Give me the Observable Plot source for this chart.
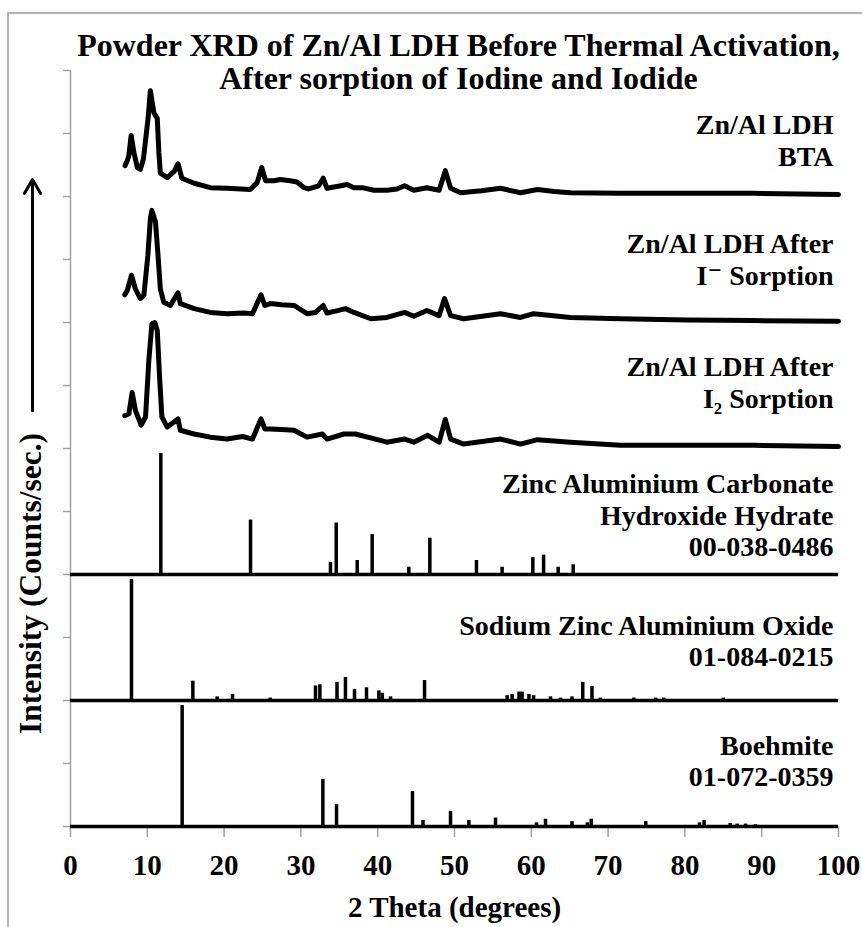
<!DOCTYPE html>
<html><head><meta charset="utf-8">
<script src="https://cdn.jsdelivr.net/npm/d3@7"></script>
<script src="https://cdn.jsdelivr.net/npm/@observablehq/plot@0.6"></script>
<style>
html,body{margin:0;padding:0;background:#fff;}
#wrap{position:relative;width:862px;height:927px;overflow:hidden;background:#fff;}
#frame{position:absolute;left:7px;top:12px;width:900px;height:950px;border-left:2px solid #b4b4b4;border-top:2px solid #b4b4b4;pointer-events:none;}
</style></head><body>
<div id="wrap"><div id="chart"></div><div id="frame"></div></div>
<script>
// ---------- data (2θ in degrees, intensity in arbitrary units; 100 units = one y tick) ----------
const titleText = "Powder XRD of Zn/Al LDH Before Thermal Activation,\nAfter sorption of Iodine and Iodide";
const xLabel = "2 Theta (degrees)";
const yLabel = "Intensity (Counts/sec.)";
const xTicks = [0, 10, 20, 30, 40, 50, 60, 70, 80, 90, 100];
const yTicks = [0, 100, 200, 300, 400, 500, 600, 700, 800, 900, 1000, 1100, 1200];

// measured traces (offset stacked)
const btaTheta = [7.1,7.4,7.6,7.9,8.25,8.7,9.1,9.5,9.8,10.1,10.4,10.85,11.3,11.5,11.7,12.6,13.5,14.0,14.5,16.1,18.2,20.4,23.4,24.3,24.9,25.4,26.5,27.3,28.6,29.5,30.4,31.0,32.3,32.9,33.4,34.3,35.2,36.0,36.9,38.0,39.5,41.2,42.5,43.5,44.7,46.4,48.0,48.8,49.5,50.8,53.5,56.0,58.6,60.8,63.0,65.1,71.6,80.3,89.0,100];
const btaCounts = [49,57,65,97,70,46,43,60,92,124,168,133,124,70,37,30,40,52,29,21,14,13,11,22,46,25,25,27,25,23,14,12,17,29,13,15,17,19,14,14,10,10,12,17,10,14,10,41,13,6,9,13,6,11,8,6,5,5,5,3];

const iodideTheta = [7.07,7.4,7.94,8.46,9.1,9.55,10.07,10.4,10.6,11.07,11.4,11.7,12.15,13.0,14.0,14.3,16.1,18.2,20.4,22.6,23.7,24.8,25.3,26.0,27.5,29.1,30.8,31.9,32.9,33.4,34.5,35.8,36.9,39.1,41.2,43.5,44.7,46.4,48.0,48.7,49.5,51.2,56.0,58.6,60.3,65.1,71.6,80.3,89.0,100];
const iodideCounts = [44,51,75,53,38,43,106,165,178,159,106,53,32,27,47,30,22,16,14,15,14,44,27,30,28,27,14,16,27,15,18,22,16,6,8,16,10,19,11,38,11,6,14,8,14,8,6,4,3,2];

const iodineTheta = [7.07,7.6,8.03,8.46,9.2,9.77,10.2,10.6,10.98,11.3,11.6,11.9,12.6,14.0,14.3,16.1,18.2,20.4,22.4,23.7,24.8,25.3,26.0,27.5,29.1,30.8,32.8,33.4,35.6,37.1,39.7,41.2,43.5,44.7,46.5,48.0,48.8,49.5,51.2,56.0,58.6,60.8,65.1,71.6,80.3,89.0,100];
const iodineCounts = [52,55,89,60,37,50,140,198,200,187,113,50,34,47,29,23,18,15,19,15,47,31,31,30,29,18,23,15,23,23,15,10,15,10,21,10,46,15,7,15,7,14,10,5,5,5,3];

const traceNames = ["Zn/Al LDH BTA", "After I- sorption", "After I2 sorption"];
const traceOffsets = [1000, 800, 600];

// reference patterns (stick positions and relative intensity, %)
const zacTheta = [11.76,23.44,33.85,34.6,37.33,39.28,44.05,46.79,52.86,56.2,60.2,61.6,63.5,65.45];
const zacRel = [100,45,10,42.5,11.6,33,6,30,11.6,6,14,16,6,8];

const szaoTheta = [7.94,15.93,19.1,21.1,26.0,31.9,32.47,34.7,35.8,36.98,38.54,40.15,40.6,41.67,46.1,56.86,57.5,58.4,58.8,59.7,60.3,62.5,63.8,65.3,66.7,67.9,69.0,73.35,76.2,77.25,85.0];
const szaoRel = [100,16,3,5,2,12,13,15,19,9,10.5,8,6,3,16.5,4,5,7,7,5,4,3,2,3,15,11.5,2,2,2,2,2];

const boeTheta = [14.54,32.86,34.64,44.53,45.9,49.48,51.87,55.34,60.68,61.85,65.3,67.3,67.8,74.9,81.9,82.5,85.9,86.8,87.9,89.2];
const boeRel = [100,39,18,29,5,12.5,5,7,3,6,4,3,6,4,3,5,2.5,2,2,1.5];

const patternOffsets = [400, 200, 0];
const unitsPerPercent = 1.92;

const seriesLabels = [
  "Zn/Al LDH\nBTA",
  "Zn/Al LDH After\nI\u207B Sorption",
  "Zn/Al LDH After\nI\u2082 Sorption",
  "Zinc Aluminium Carbonate\nHydroxide Hydrate\n00-038-0486",
  "Sodium Zinc Aluminium Oxide\n01-084-0215",
  "Boehmite\n01-072-0359"
];
const labelBaselines = [1049, 860, 665, 429, 254, 63.5];

// arrow annotation along the y-axis title (y units)
const arrowFrom = 660, arrowTo = 1027;

// ---------- build tables ----------
const traceSets = [[btaTheta, btaCounts], [iodideTheta, iodideCounts], [iodineTheta, iodineCounts]];
const traces = traceSets.flatMap(([t, c], k) => t.map((th, i) => ({series: traceNames[k], theta: th, y: traceOffsets[k] + c[i]})));

const patternSets = [[zacTheta, zacRel], [szaoTheta, szaoRel], [boeTheta, boeRel]];
const sticks = patternSets.flatMap(([t, r], k) => t.map((th, i) => ({theta: th, base: patternOffsets[k], top: patternOffsets[k] + r[i] * unitsPerPercent})));

const labels = seriesLabels.map((text, i) => ({text, y: labelBaselines[i]}));

const axisGray = "#a0a0a0";
const serif = '"Liberation Serif", "Times New Roman", "DejaVu Serif", serif';

const chart = Plot.plot({
  width: 862,
  height: 927,
  marginLeft: 70,
  marginRight: 24,
  marginTop: 70,
  marginBottom: 101,
  x: {domain: [0, 100]},
  y: {domain: [0, 1200]},
  style: {fontFamily: serif, fontWeight: "bold", color: "#000", background: "transparent", overflow: "visible"},
  marks: [
    Plot.ruleX([0], {stroke: axisGray, strokeWidth: 1.5}),
    Plot.axisY({ticks: yTicks, tickSize: 7, tickFormat: () => "", stroke: axisGray, strokeWidth: 1.5, label: null}),
    Plot.axisX({ticks: xTicks, tickSize: 11, tickPadding: 17, stroke: axisGray, strokeWidth: 1.5, fill: "#000", fontSize: 29, fontWeight: "bold",
      label: xLabel, labelAnchor: "center", labelArrow: "none", labelOffset: 90}),
    Plot.ruleY(patternOffsets, {x1: 0, x2: 100, stroke: "#000", strokeWidth: 3.5}),
    Plot.ruleX(sticks, {x: "theta", y1: "base", y2: "top", stroke: "#000", strokeWidth: 3.5}),
    Plot.line(traces, {x: "theta", y: "y", z: "series", stroke: "#000", strokeWidth: 5, strokeLinejoin: "round", strokeLinecap: "round"}),
    Plot.text(labels, {x: 100, y: "y", text: "text", textAnchor: "end", lineAnchor: "bottom", dx: -5, fontSize: 28, lineHeight: 1.125, fill: "#000"}),
    Plot.text([titleText], {frameAnchor: "top", textAnchor: "middle", lineAnchor: "bottom", dy: 18, dx: 4, fontSize: 32, lineHeight: 1.03, fill: "#000"}),
    Plot.text([yLabel], {frameAnchor: "left", textAnchor: "middle", rotate: -90, lineAnchor: "bottom", dx: -30, dy: 135, fontSize: 31.5, fill: "#000"}),
    Plot.arrow([{from: arrowFrom, to: arrowTo}], {x1: 0, x2: 0, y1: "from", y2: "to", dx: -38, stroke: "#000", strokeWidth: 3, headLength: 8})
  ]
});
document.getElementById("chart").appendChild(chart);
</script>
</body></html>
